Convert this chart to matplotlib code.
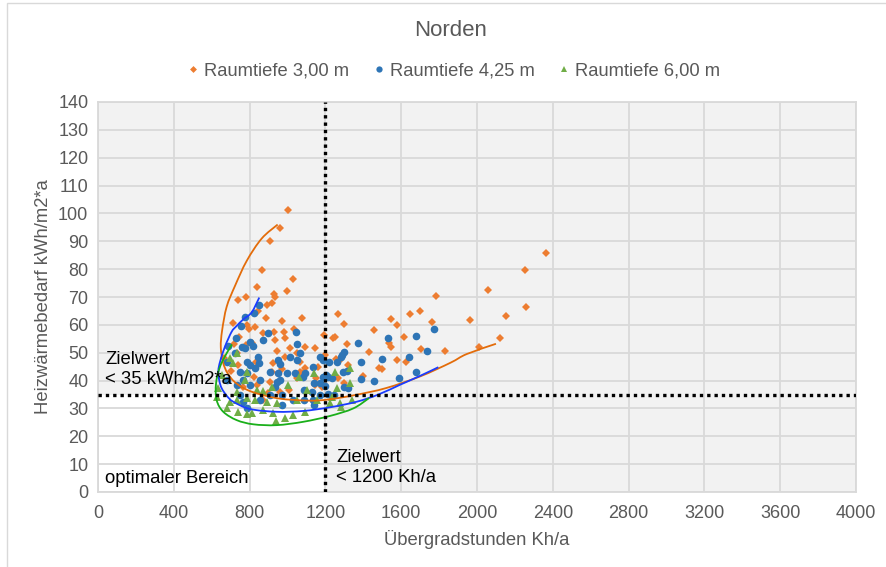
import matplotlib

matplotlib.use("Agg")
import matplotlib.pyplot as plt  # noqa: E402
from matplotlib.lines import Line2D  # noqa: E402
from matplotlib.patches import PathPatch, Rectangle  # noqa: E402
from matplotlib.path import Path  # noqa: E402

plt.rcParams["font.family"] = ["Liberation Sans", "DejaVu Sans"]

# --- data ---
labels = ["Raumtiefe 3,00 m", "Raumtiefe 4,25 m", "Raumtiefe 6,00 m"]

orange_x = [1001, 962, 906, 864, 1031, 837, 996, 927, 934, 920, 740, 781, 892, 885, 969,
            1078, 1265, 1298, 711, 829, 1036,
            2362, 2253, 2058, 2259, 2155, 1963, 2120, 2009, 1782, 1699, 1645, 1761, 1546,
            1576, 1458, 1616, 1534, 1545, 1706, 1829, 1430, 1576, 1624, 1484, 1499, 1397,
            1242, 1251, 1314, 1092, 1147, 1194, 1091, 1159, 1256, 1273, 1318, 1265, 1182, 1066,
            785, 798, 872, 929, 983, 987, 934, 745, 846, 1013, 946, 987, 732, 779, 740, 834,
            925, 969, 1066, 1075, 1198, 823, 767, 908, 1048, 1145, 899, 960, 1009, 872,
            811, 1048, 1189, 916, 1150, 1300, 837, 665, 700, 720]
orange_y = [101.2, 94.6, 90.1, 79.7, 76.3, 73.6, 72.3, 71.2, 69.9, 68.0, 68.9, 69.9, 67.0, 62.3, 61.4,
            62.3, 63.8, 60.4, 60.8, 59.1, 58.4,
            85.8, 79.7, 72.6, 66.5, 63.2, 61.7, 55.3, 52.0, 70.4, 65.1, 63.8, 61.0, 62.2,
            59.9, 58.1, 55.7, 53.4, 51.9, 51.4, 50.6, 50.1, 47.4, 46.8, 44.6, 44.0, 41.8,
            55.2, 55.5, 53.0, 51.9, 51.6, 56.2, 44.5, 45.0, 47.8, 47.0, 45.6, 40.9, 37.8, 43.2,
            59.9, 58.5, 57.2, 57.3, 57.5, 55.2, 54.6, 55.5, 65.1, 51.6, 50.7, 48.6, 49.8, 52.8, 45.6, 46.8,
            46.4, 44.0, 46.8, 42.6, 49.2, 41.4, 37.8, 39.6, 40.8, 38.4, 35.6, 36.0, 36.6, 33.0,
            53.4, 49.8, 48.0, 43.1, 41.0, 39.0, 38.4, 48.0, 43.5, 53.0]

blue_x = [851, 823, 776, 755, 728, 899, 872, 802, 820, 776, 688,
          1374, 1532, 1678, 1775, 1734, 1643, 1497, 1388, 1300, 1289, 1281, 1260, 1221, 1171,
          1294, 1215, 1233, 1388, 1458, 1587, 1678, 1298, 1321, 1201, 1198,
          1133, 1080, 1141, 1312, 1087, 1128, 1215, 1245, 1140, 1087,
          761, 723, 851, 802, 960, 1013, 1048, 1066, 951, 996, 1040, 908, 1092, 749, 767, 855,
          802, 960, 934, 1171, 749, 908, 1136, 785, 969,
          846, 785, 679, 829, 951, 1189, 943, 785, 732, 679, 969, 1171, 1189, 1031, 767, 855,
          1045, 1050]
blue_y = [67.1, 64.4, 62.9, 59.6, 55.4, 57.2, 54.6, 54.0, 52.4, 51.6, 52.4,
          53.4, 55.2, 56.1, 58.5, 50.6, 48.6, 47.7, 46.8, 50.4, 49.2, 48.4, 46.8, 46.6, 48.4,
          43.2, 41.2, 40.8, 40.5, 39.8, 40.8, 43.2, 37.6, 37.2, 42.0, 38.0,
          45.0, 41.4, 39.2, 43.4, 36.6, 36.0, 35.2, 34.8, 31.2, 33.0,
          52.2, 49.8, 46.2, 45.6, 45.9, 48.3, 47.4, 49.8, 42.6, 42.6, 42.6, 43.2, 42.6, 43.2, 40.2, 40.2,
          38.4, 40.2, 37.8, 39.0, 34.8, 34.8, 33.0, 30.0, 31.2,
          48.6, 46.8, 46.8, 44.4, 47.4, 47.4, 39.6, 42.6, 38.4, 40.2, 34.8, 34.8, 41.4, 33.0, 32.4, 33.0,
          57.5, 53.0]

green_x = [732, 697, 776, 635, 732, 837, 916, 1004, 1101, 1140, 1251, 1260, 1330, 1330,
           679, 732, 785, 829, 890, 943, 872, 811, 939, 987, 1031, 1092, 1048, 1154, 1224,
           1277, 1339, 788, 872, 1061, 697, 737, 785, 925, 1233, 1281, 714, 655, 626]
green_y = [49.8, 48.0, 40.2, 37.2, 36.0, 36.6, 37.8, 38.4, 36.6, 42.6, 43.2, 37.2, 39.0, 44.4,
           30.0, 33.0, 33.6, 33.0, 32.4, 31.8, 29.4, 28.2, 25.6, 26.4, 27.6, 28.8, 33.0, 33.0, 31.8,
           31.8, 33.0, 43.2, 36.4, 41.2, 32.4, 28.8, 28.0, 28.2, 34.2, 30.6, 46.2, 42.0, 34.2]

# trend curves
orange_curve_x = [948, 864, 785, 723, 679, 655, 648, 660, 685, 730, 811, 951, 1110, 1215,
                  1356, 1520, 1700, 1860, 1945, 2100]
orange_curve_y = [96, 91, 83, 74, 66.5, 58, 52, 46.5, 42.5, 39, 36, 33.6, 32.8, 33.2,
                  34.8, 37.3, 41.5, 46.4, 49.5, 53.2]
blue_curve_x = [851, 811, 767, 730, 705, 670, 645, 635, 640, 653, 680, 714, 802, 943, 1083,
                1224, 1365, 1480, 1594, 1700, 1796]
blue_curve_y = [69.8, 64.5, 62, 59.5, 57.5, 52.2, 47, 43.5, 40, 37.2, 34.5, 32.4, 29.8, 28.8,
                29.1, 30.4, 32.4, 35, 38.5, 41.7, 44.8]
green_curve_x = [707, 679, 644, 623, 626, 661, 732, 820, 943, 1083, 1224, 1347, 1430]
green_curve_y = [53, 49.8, 45, 39, 33, 28.8, 25.8, 24.3, 24, 25.2, 27.3, 30, 33.7]

target_kwh = 35
target_kh = 1200

C_OR, C_BL, C_GR = "#ED7D31", "#2E75B6", "#70AD47"
GREY = "#595959"


def smooth_path(xs, ys):
    # Catmull-Rom through the traced points, drawn as cubic Bezier segments
    pts = list(zip(xs, ys))
    verts, codes = [pts[0]], [Path.MOVETO]
    for i in range(len(pts) - 1):
        p0 = pts[i - 1] if i > 0 else pts[i]
        p1, p2 = pts[i], pts[i + 1]
        p3 = pts[i + 2] if i + 2 < len(pts) else pts[i + 1]
        c1 = (p1[0] + (p2[0] - p0[0]) / 6, p1[1] + (p2[1] - p0[1]) / 6)
        c2 = (p2[0] - (p3[0] - p1[0]) / 6, p2[1] - (p3[1] - p1[1]) / 6)
        verts += [c1, c2, p2]
        codes += [Path.CURVE4] * 3
    return Path(verts, codes)


fig = plt.figure(figsize=(8.86, 5.67), dpi=100)
ax = fig.add_axes([98 / 886, 1 - 492 / 567, (856 - 98) / 886, (492 - 102) / 567])
ax.set_facecolor("#f2f2f2")
ax.add_patch(Rectangle((0, 0), target_kh, target_kwh, facecolor="white",
                       edgecolor="none", zorder=0.2))
ax.set_axisbelow(True)
ax.grid(True, color="#d9d9d9", lw=1.3)

ax.plot(orange_x, orange_y, "D", color=C_OR, ms=4.5, mew=0, zorder=3)
ax.plot(blue_x, blue_y, "o", color=C_BL, ms=5.5, mew=0, zorder=3)
ax.plot(green_x, green_y, "^", color=C_GR, ms=6, mew=0, zorder=3)

for cx, cy, col in [(orange_curve_x, orange_curve_y, "#E36C0A"),
                    (blue_curve_x, blue_curve_y, "#1A3CFF"),
                    (green_curve_x, green_curve_y, "#1AAF1A")]:
    ax.add_patch(PathPatch(smooth_path(cx, cy), fill=False, edgecolor=col, lw=1.3, zorder=4))

ax.axhline(target_kwh, color="black", lw=2.4, ls=(0, (1, 1.2)), zorder=5)
ax.axvline(target_kh, color="black", lw=2.4, ls=(0, (1, 1.2)), zorder=5)

ax.text(37, 44, "Zielwert\n< 35 kWh/m2*a", fontsize=13.3, va="center", ha="left",
        linespacing=1.25, zorder=6)
ax.text(1256, 8.8, "Zielwert\n< 1200 Kh/a", fontsize=13.3, va="center", ha="left",
        linespacing=1.25, zorder=6)
ax.text(37, 5, "optimaler Bereich", fontsize=13.3, va="center", ha="left", zorder=6)

ax.set_xlim(0, 4000)
ax.set_ylim(0, 140)
ax.set_xticks(range(0, 4001, 400))
ax.set_yticks(range(0, 141, 10))
ax.tick_params(length=0, labelsize=13, colors=GREY)
ax.tick_params(axis="y", pad=7)
ax.tick_params(axis="x", pad=9)
for s in ax.spines.values():
    s.set_color("#d9d9d9")
    s.set_linewidth(1.3)

ax.set_xlabel("Übergradstunden Kh/a", fontsize=13.3, color=GREY, labelpad=6)
ax.set_ylabel("Heizwärmebedarf kWh/m2*a", fontsize=13.3, color=GREY, labelpad=4)
fig.text(451 / 886, 1 - 30 / 567, "Norden", fontsize=16, color=GREY, ha="center", va="center")

handles = [
    Line2D([], [], ls="", marker="D", color=C_OR, ms=3.5, mew=0),
    Line2D([], [], ls="", marker="o", color=C_BL, ms=4.5, mew=0),
    Line2D([], [], ls="", marker="^", color=C_GR, ms=4.5, mew=0),
]
fig.legend(handles, labels, loc="center", bbox_to_anchor=(454 / 886, 1 - 71 / 567), ncol=3,
           frameon=False, fontsize=13.2, handlelength=0.6, handletextpad=0.3,
           columnspacing=1.3, labelcolor=GREY)

fig.add_artist(Rectangle((7 / 886, -0.02), 1.0, 1 - 3 / 567 + 0.02, transform=fig.transFigure,
                         fill=False, edgecolor="#d9d9d9", lw=1))

fig.savefig("out.png", dpi=100)
